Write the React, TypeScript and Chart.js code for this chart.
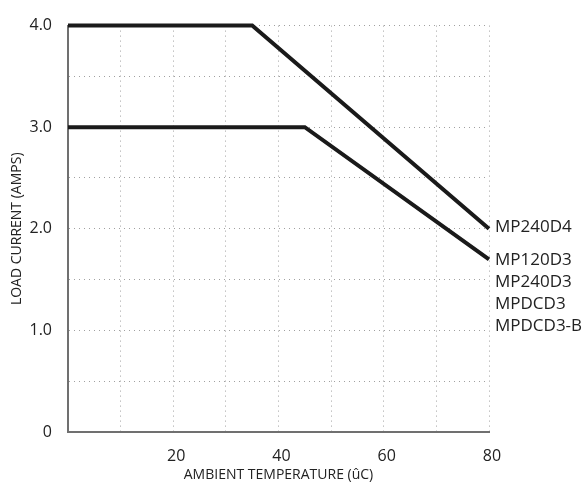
import React, { useEffect, useRef } from "react";
import { Chart, registerables } from "chart.js";

Chart.register(...registerables);

const seriesNames = ["MP240D4", "MP120D3"];
const series1X = [0, 35, 80];
const series1Y = [4.0, 4.0, 2.0];
const series2X = [0, 45, 80];
const series2Y = [3.0, 3.0, 1.7];
const labelsSeries1 = ["MP240D4"];
const labelsSeries2 = ["MP120D3", "MP240D3", "MPDCD3", "MPDCD3-B"];
const xTickLabels = [20, 40, 60, 80];
const yTickLabels = [0, 1, 2, 3, 4];
const xTitle = "AMBIENT TEMPERATURE (ûC)";
const yTitle = "LOAD CURRENT (AMPS)";

const FONT = "'Open Sans', 'DejaVu Sans', sans-serif";
const TEXT = "#222222";

export default function App() {
  const ref = useRef<HTMLCanvasElement | null>(null);

  useEffect(() => {
    if (!ref.current) return;
    const endLabels = {
      id: "endLabels",
      afterDatasetsDraw(chart: any) {
        const ctx = chart.ctx;
        const xs = chart.scales.x;
        const ys = chart.scales.y;
        ctx.save();
        ctx.font = `17px ${FONT}`;
        ctx.fillStyle = TEXT;
        ctx.textAlign = "left";
        ctx.textBaseline = "middle";
        const groups = [
          { names: labelsSeries1, x: series1X[series1X.length - 1], y: series1Y[series1Y.length - 1], dy: -2 },
          { names: labelsSeries2, x: series2X[series2X.length - 1], y: series2Y[series2Y.length - 1], dy: 1 },
        ];
        groups.forEach((g) => {
          const px = xs.getPixelForValue(g.x) + 6;
          const py = ys.getPixelForValue(g.y) + g.dy;
          g.names.forEach((n, i) => {
            ctx.fillText(n, px, py + i * 22);
          });
        });
        ctx.restore();
      },
    };

    const chart = new Chart(ref.current, {
      type: "line",
      data: {
        datasets: [
          {
            label: seriesNames[0],
            data: series1X.map((x, i) => ({ x, y: series1Y[i] })),
            borderColor: "#1a1a1a",
            borderWidth: 4,
            pointRadius: 0,
            fill: false,
            tension: 0,
            clip: false as any,
          },
          {
            label: seriesNames[1],
            data: series2X.map((x, i) => ({ x, y: series2Y[i] })),
            borderColor: "#1a1a1a",
            borderWidth: 4,
            pointRadius: 0,
            fill: false,
            tension: 0,
            clip: false as any,
          },
        ],
      },
      options: {
        responsive: false,
        animation: false,
        layout: { padding: { left: 0, top: 17, right: 97, bottom: 0 } },
        plugins: {
          legend: { display: false },
          tooltip: { enabled: false },
        },
        scales: {
          x: {
            type: "linear",
            min: 0,
            max: 80,
            afterFit: (s: any) => {
              s.height = 51;
            },
            ticks: {
              stepSize: 10,
              padding: 15,
              labelOffset: 3,
              autoSkip: false,
              maxRotation: 0,
              color: TEXT,
              font: { family: FONT, size: 16 },
              callback: (v: any) => (xTickLabels.includes(Number(v)) ? String(v) : ""),
            },
            grid: {
              color: "#a0a0a0",
              lineWidth: 1,
              drawTicks: false,
            },
            border: { display: true, color: "#707070", width: 2, dash: [1, 4] },
            title: {
              display: true,
              text: xTitle,
              color: TEXT,
              font: { family: FONT, size: 14 },
              padding: { top: 0, bottom: 0 },
            },
          },
          y: {
            type: "linear",
            min: 0,
            max: 4,
            afterFit: (s: any) => {
              s.width = 68;
            },
            ticks: {
              stepSize: 0.5,
              padding: 16,
              autoSkip: false,
              color: TEXT,
              font: { family: FONT, size: 16 },
              callback: (v: any) => {
                const n = Number(v);
                if (!yTickLabels.includes(n)) return "";
                return n === 0 ? "0" : n.toFixed(1);
              },
            },
            grid: {
              color: "#a0a0a0",
              lineWidth: 1,
              drawTicks: false,
            },
            border: { display: true, color: "#707070", width: 2, dash: [1, 4] },
            title: {
              display: true,
              text: yTitle,
              color: TEXT,
              font: { family: FONT, size: 14 },
              padding: { top: 9, bottom: 0 },
            },
          },
        },
      },
      plugins: [endLabels],
    });
    return () => chart.destroy();
  }, []);

  return (
    <div style={{ position: "fixed", left: 0, top: 0, width: 586, height: 483, background: "#fff" }}>
      <canvas ref={ref} width={586} height={483} style={{ width: 586, height: 483 }} />
    </div>
  );
}
